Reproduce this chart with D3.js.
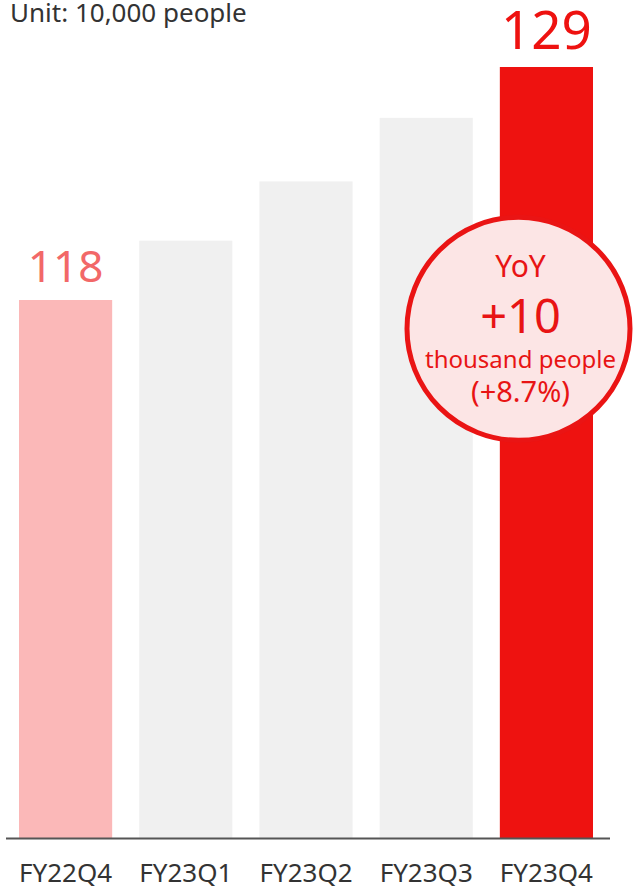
<!DOCTYPE html>
<html>
<head>
<meta charset="utf-8">
<script src="https://cdn.jsdelivr.net/npm/d3@7"></script>
<style>
  html, body { margin: 0; padding: 0; background: #fff; }
  svg { display: block; font-family: "Noto Sans", sans-serif; }
</style>
</head>
<body>
<svg id="chart" width="635" height="888"></svg>
<script>
// Headcount per quarter, in units of 10,000 people
const categories = ["FY22Q4", "FY23Q1", "FY23Q2", "FY23Q3", "FY23Q4"];
const values = [118, 120.8, 123.6, 126.6, 129];
const valueLabels = ["118", null, null, null, "129"];
const unitLabel = "Unit: 10,000 people";
const yoyLines = ["YoY", "+10", "thousand people", "(+8.7%)"];

const svg = d3.select("#chart");
const W = 635, H = 888;
const baseline = 838;

const x = d3.scaleBand()
  .domain(categories)
  .range([19, 593])
  .paddingInner(0.225)
  .paddingOuter(0);

// Truncated value axis: bars start well above zero
const y = d3.scaleLinear()
  .domain([92.6, 129])
  .range([baseline, 67]);

const fillFor = (d, i) => i === 0 ? "#fbb8b8" : (i === categories.length - 1 ? "#ee1210" : "#f0f0f0");
const labelColor = (i) => i === 0 ? "#f26868" : "#ee1210";

// Bars
svg.append("g").selectAll("rect")
  .data(values)
  .join("rect")
  .attr("x", (d, i) => x(categories[i]))
  .attr("y", d => y(d))
  .attr("width", x.bandwidth())
  .attr("height", d => baseline - y(d))
  .attr("fill", fillFor);

// Value labels above the first and last bars
svg.append("g").selectAll("text")
  .data(values.map((v, i) => ({ v, i, t: valueLabels[i] })).filter(d => d.t))
  .join("text")
  .attr("x", d => x(categories[d.i]) + x.bandwidth() / 2)
  .attr("y", d => y(d.v) - 18)
  .attr("text-anchor", "middle")
  .attr("font-size", d => d.i === 0 ? 44 : 53)
  .attr("fill", d => labelColor(d.i))
  .text(d => d.t);

// Category axis
const xAxis = d3.axisBottom(x).tickSize(0).tickPadding(0);
const gx = svg.append("g")
  .attr("transform", `translate(0,${baseline})`)
  .call(xAxis);
gx.select(".domain").remove();
gx.append("line")
  .attr("x1", 6).attr("x2", 610)
  .attr("y1", 0.5).attr("y2", 0.5)
  .attr("stroke", "#555")
  .attr("stroke-width", 2);
gx.selectAll(".tick text")
  .attr("y", 44)
  .attr("dy", 0)
  .attr("font-size", 26)
  .attr("font-family", "'Noto Sans', sans-serif")
  .attr("fill", "#333");

// Unit caption
svg.append("text")
  .attr("x", 10)
  .attr("y", 22)
  .attr("font-size", 26)
  .attr("fill", "#333")
  .text(unitLabel);

// Year-over-year badge
const cx = 518.5, cy = 328.8;
const badge = svg.append("g");
badge.append("circle")
  .attr("cx", cx).attr("cy", cy).attr("r", 111.5)
  .attr("fill", "#fce5e5")
  .attr("stroke", "#ea1414")
  .attr("stroke-width", 5);

const lineStyle = [
  { dy: 277, size: 30 },
  { dy: 333, size: 47 },
  { dy: 368, size: 24 },
  { dy: 402, size: 29 }
];
badge.selectAll("text")
  .data(yoyLines)
  .join("text")
  .attr("x", cx + 2)
  .attr("y", (d, i) => lineStyle[i].dy)
  .attr("text-anchor", "middle")
  .attr("font-size", (d, i) => lineStyle[i].size)
  .attr("fill", "#e81414")
  .text(d => d);
</script>
</body>
</html>
